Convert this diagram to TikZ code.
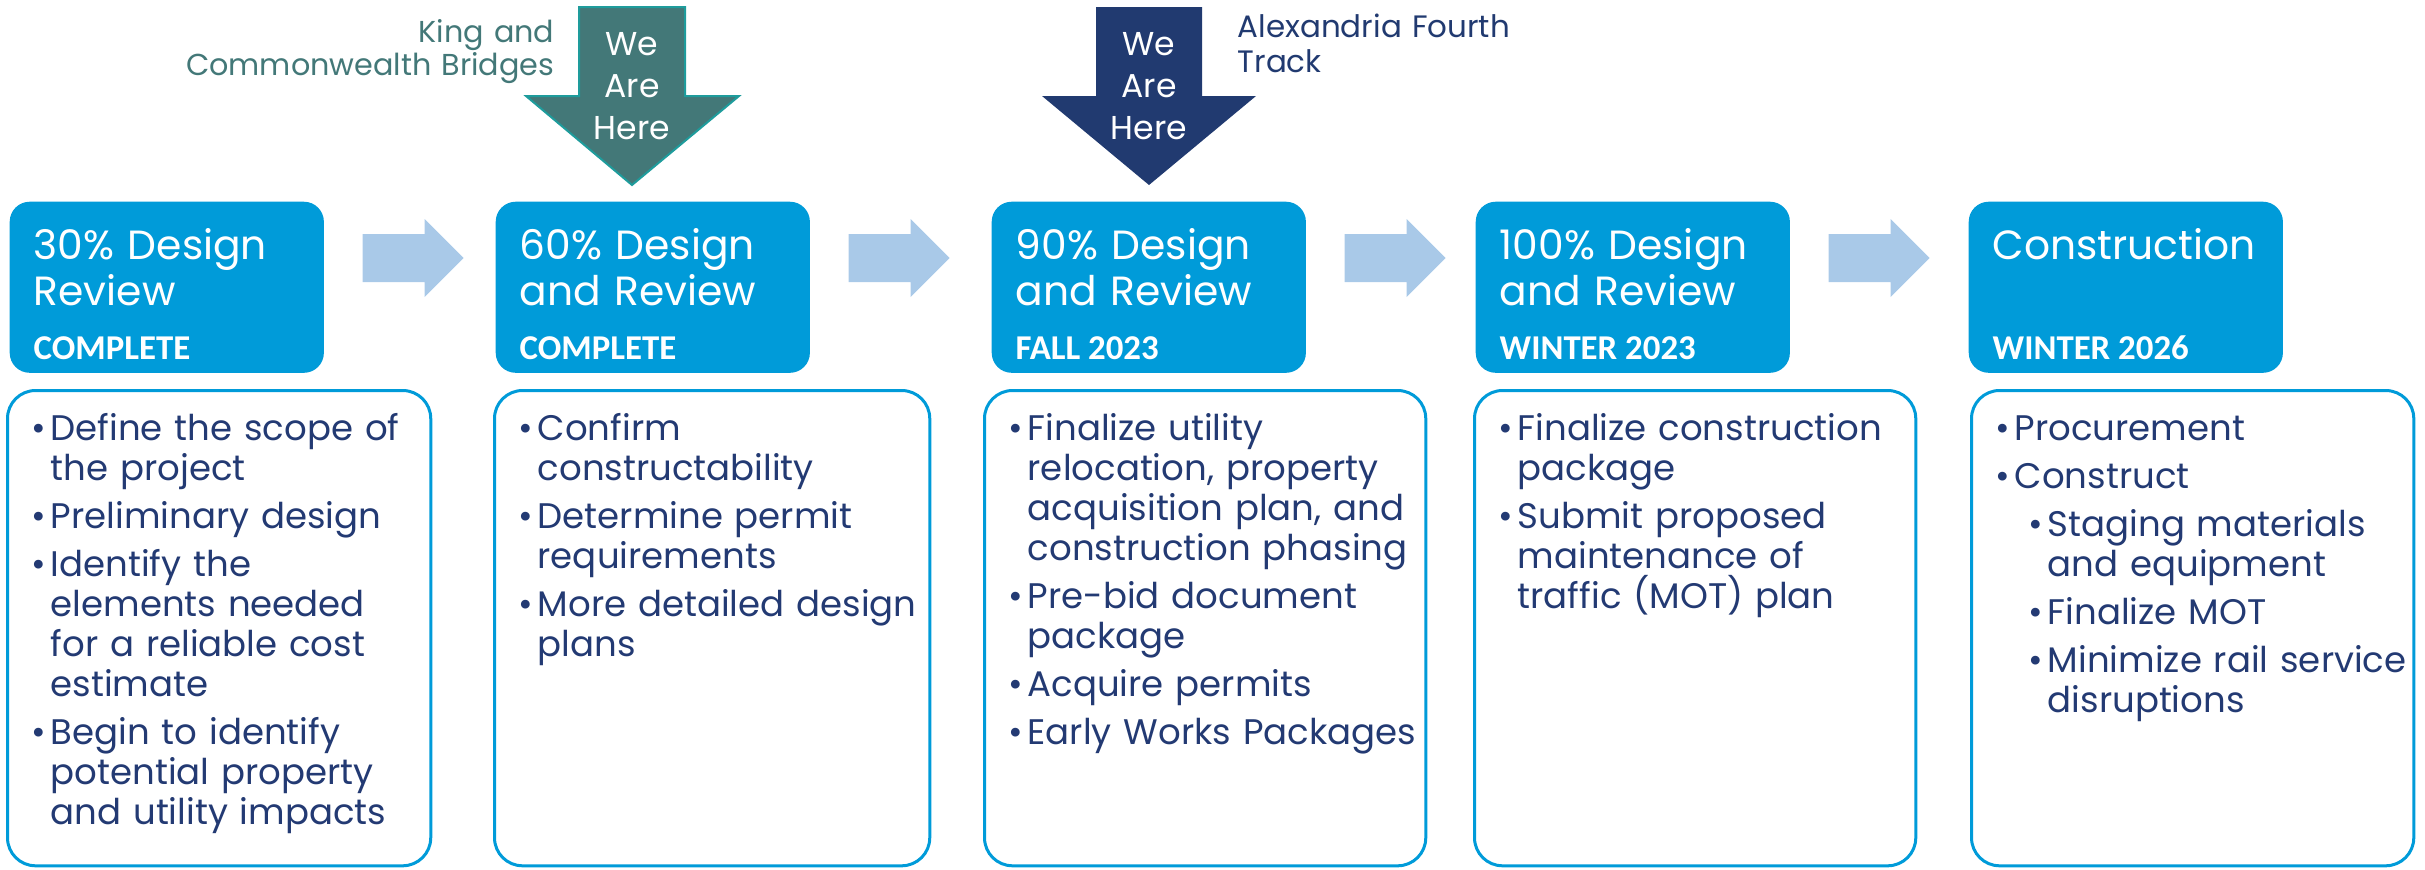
\documentclass[tikz,border=0pt]{standalone}
\usepackage{fontspec}
\setmainfont{Poppins}
\newfontfamily\statfont{Carlito}
\usetikzlibrary{calc}
\usepackage{xcolor}
\definecolor{hdrblue}{HTML}{009BD9}
\definecolor{itemnavy}{HTML}{233A73}
\definecolor{paleblue}{HTML}{A9C9E8}
\definecolor{kingteal}{HTML}{437878}
\definecolor{kingedge}{HTML}{1E9C9C}
\definecolor{alexnavy}{HTML}{213A70}

\newlength{\bind}\setlength{\bind}{0.19cm}
\newlength{\subind}\setlength{\subind}{0.33cm}
\newcommand{\bitem}[1]{\hangindent=\bind\hangafter=1\noindent\makebox[\bind][l]{\textbullet}#1\par\vspace{0.08cm}}
\newcommand{\sitem}[1]{\hangindent=\dimexpr\bind+\subind\relax\hangafter=1\noindent\hspace*{\subind}\makebox[\bind][l]{\textbullet}#1\par\vspace{0.08cm}}

\begin{document}
\begin{tikzpicture}[x=0.01cm, y=-0.01cm,
    header/.style={fill=hdrblue, rounded corners=0.2cm, minimum width=3.14cm, minimum height=1.71cm, inner sep=0pt, anchor=north west},
    body/.style={draw=hdrblue, line width=0.03cm, rounded corners=0.28cm, minimum height=4.75cm, inner sep=0pt, anchor=north west},
    title/.style={text=white, font=\fontsize{11.6pt}{0.46cm}\selectfont, text width=3cm, align=left, inner sep=0pt, anchor=base west},
    status/.style={text=white, font=\statfont\bfseries\fontsize{9.9pt}{11pt}\selectfont, inner sep=0pt, anchor=base west},
    items/.style={text=itemnavy, font=\fontsize{10.1pt}{0.40cm}\selectfont, text width=5cm, inner sep=0pt, anchor=base west},
    nextarrow/.style={fill=paleblue},
    here/.style={text=white, font=\fontsize{9.4pt}{0.42cm}\selectfont, text width=1cm, align=center, inner sep=0pt, anchor=base}]
    \useasboundingbox (0,0) rectangle (2425,869);

    % phase headers
    \node[header] (h1) at (9,201) {};
    \node[header] (h2) at (495,201) {};
    \node[header] (h3) at (991,201) {};
    \node[header] (h4) at (1475,201) {};
    \node[header] (h5) at (1968,201) {};

    \node[title] (t1) at ($(h1.north west)+(24,58)$) {30\% Design\\Review};
    \node[title] (t2) at ($(h2.north west)+(24,58)$) {60\% Design\\and Review};
    \node[title] (t3) at ($(h3.north west)+(24,58)$) {90\% Design\\and Review};
    \node[title] (t4) at ($(h4.north west)+(24,58)$) {100\% Design\\and Review};
    \node[title] (t5) at ($(h5.north west)+(24,58)$) {Construction};

    \node[status] (s1) at ($(h1.north west)+(24,158)$) {COMPLETE};
    \node[status] (s2) at ($(h2.north west)+(24,158)$) {COMPLETE};
    \node[status] (s3) at ($(h3.north west)+(24,158)$) {FALL 2023};
    \node[status] (s4) at ($(h4.north west)+(24,158)$) {WINTER 2023};
    \node[status] (s5) at ($(h5.north west)+(24,158)$) {WINTER 2026};

    % arrows between phases
    \fill[nextarrow] ($(h1.north east)+(38,33)$) -- ++(62,0) -- ++(0,-15) -- ++(39,39) -- ++(-39,39) -- ++(0,-15) -- ++(-62,0) -- cycle;
    \fill[nextarrow] ($(h2.north east)+(38,33)$) -- ++(62,0) -- ++(0,-15) -- ++(39,39) -- ++(-39,39) -- ++(0,-15) -- ++(-62,0) -- cycle;
    \fill[nextarrow] ($(h3.north east)+(38,33)$) -- ++(62,0) -- ++(0,-15) -- ++(39,39) -- ++(-39,39) -- ++(0,-15) -- ++(-62,0) -- cycle;
    \fill[nextarrow] ($(h4.north east)+(38,33)$) -- ++(62,0) -- ++(0,-15) -- ++(39,39) -- ++(-39,39) -- ++(0,-15) -- ++(-62,0) -- cycle;

    % task boxes
    \node[body, minimum width=4.23cm] (b1) at (6,389) {};
    \node[body, minimum width=4.35cm] (b2) at (493,389) {};
    \node[body, minimum width=4.41cm] (b3) at (983,389) {};
    \node[body, minimum width=4.41cm] (b4) at (1473,389) {};
    \node[body, minimum width=4.42cm] (b5) at (1970,389) {};

    \node[items] (l1) at ($(b1.north west)+(25,51)$) {%
        \bitem{Define the scope of\newline the project}%
        \bitem{Preliminary design}%
        \bitem{Identify the\newline elements needed\newline for a reliable cost\newline estimate}%
        \bitem{Begin to identify\newline potential property\newline and utility impacts}};
    \node[items] (l2) at ($(b2.north west)+(25,51)$) {%
        \bitem{Confirm\newline constructability}%
        \bitem{Determine permit\newline requirements}%
        \bitem{More detailed design\newline plans}};
    \node[items] (l3) at ($(b3.north west)+(25,51)$) {%
        \bitem{Finalize utility\newline relocation, property\newline acquisition plan, and\newline construction phasing}%
        \bitem{Pre-bid document\newline package}%
        \bitem{Acquire permits}%
        \bitem{Early Works Packages}};
    \node[items] (l4) at ($(b4.north west)+(25,51)$) {%
        \bitem{Finalize construction\newline package}%
        \bitem{Submit proposed\newline maintenance of\newline traffic (MOT) plan}};
    \node[items] (l5) at ($(b5.north west)+(25,51)$) {%
        \bitem{Procurement}%
        \bitem{Construct}%
        \sitem{Staging materials\newline and equipment}%
        \sitem{Finalize MOT}%
        \sitem{Minimize rail service\newline disruptions}};

    % we are here markers
    \filldraw[fill=kingteal, draw=kingedge, line width=0.02cm] (579,7) -- (685,7) -- (685,96) -- (739,96) -- (632,185) -- (526,96) -- (579,96) -- cycle;
    \node[here] (w1) at (632,55) {We\\Are\\Here};
    \node[text=kingteal, font=\fontsize{8.6pt}{0.33cm}\selectfont, text width=4cm, align=right, inner sep=0pt, anchor=base east] (k1) at (555,42) {King and\\Commonwealth Bridges};

    \fill[alexnavy] (1096,7) -- (1202,7) -- (1202,96) -- (1256,96) -- (1149,185) -- (1042,96) -- (1096,96) -- cycle;
    \node[here] (w2) at (1149,55) {We\\Are\\Here};
    \node[text=alexnavy, font=\fontsize{8.8pt}{0.35cm}\selectfont, text width=4cm, align=left, inner sep=0pt, anchor=base west] (a1) at (1237,37) {Alexandria Fourth\\Track};
\end{tikzpicture}
\end{document}
